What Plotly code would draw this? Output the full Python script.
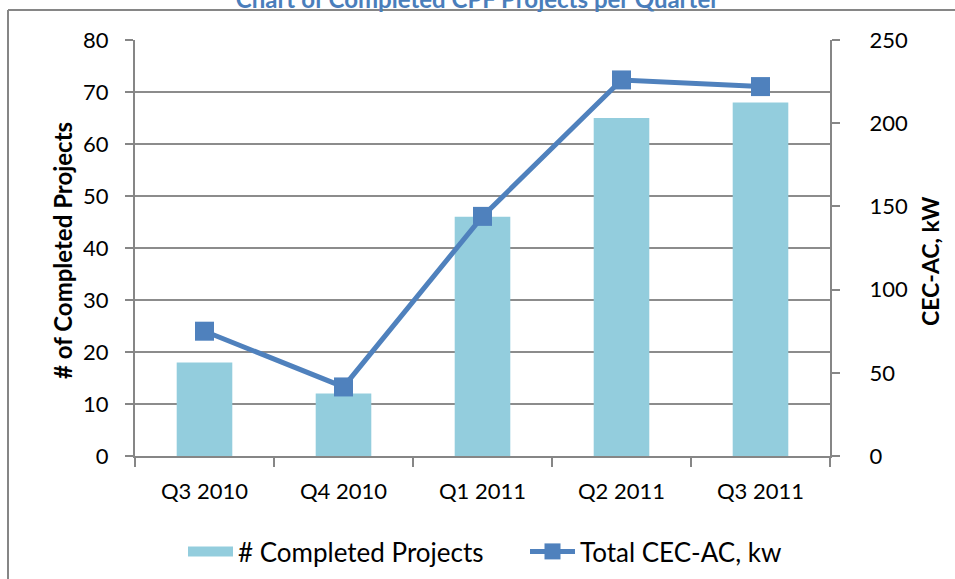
import plotly.graph_objects as go

quarters = ['Q3 2010', 'Q4 2010', 'Q1 2011', 'Q2 2011', 'Q3 2011']
completed_projects = [18, 12, 46, 65, 68]
total_cec_ac_kw = [75, 41.5, 144, 226, 222]

W, H = 955, 579
L, R, T, B = 135, 125, 40, 123  # plot area: x 135..830, y 40..456

FONT = 'Lato, Open Sans, sans-serif'
tick_font = dict(family=FONT, size=22, color='black')
grey = '#868686'
bar_color = '#93CDDD'
line_color = '#4F81BD'

px_w, px_h = W - L - R, H - T - B
def px_x(v):
    return (v - L) / px_w
def px_y(v):
    return (H - B - v) / px_h

fig = go.Figure()
fig.add_bar(x=quarters, y=completed_projects, name='# Completed Projects',
            marker=dict(color=bar_color, line=dict(width=0)), width=0.4,
            showlegend=False)
# legend stand-in so the swatch is a wide block like the Excel legend
fig.add_scatter(x=[None], y=[None], name='# Completed Projects', mode='lines',
                line=dict(color=bar_color, width=16))
fig.add_scatter(x=quarters, y=total_cec_ac_kw, name='Total CEC-AC, kw', yaxis='y2',
                mode='lines+markers',
                line=dict(color=line_color, width=5),
                marker=dict(symbol='square', size=19, color=line_color))

fig.update_layout(
    width=W, height=H,
    margin=dict(l=L, r=R, t=T, b=B),
    plot_bgcolor='white', paper_bgcolor='white',
    font=tick_font,
    title=dict(text='<b>Chart of Completed CPF Projects per Quarter</b>',
               x=0.5, xanchor='center', y=1.0, yref='container', yanchor='middle',
               font=dict(family=FONT, size=24, color='#4A7EBB')),
    xaxis=dict(showline=True, linecolor=grey, linewidth=2, ticks='outside',
               tickson='boundaries', ticklen=9, tickcolor=grey, tickwidth=2,
               tickfont=tick_font, showgrid=False, automargin=False,
               ticklabelstandoff=15),
    yaxis=dict(range=[0, 80], dtick=10, showline=True, linecolor=grey, linewidth=2,
               ticks='outside', ticklen=8, tickcolor=grey, tickwidth=2,
               gridcolor='#8c8c8c', gridwidth=2, zeroline=False, tickfont=tick_font,
               automargin=False, ticklabelstandoff=12),
    yaxis2=dict(range=[0, 250], dtick=50, overlaying='y', side='right', showline=True,
                linecolor=grey, linewidth=2, ticks='outside', ticklen=8,
                tickcolor=grey, tickwidth=2, showgrid=False, zeroline=False,
                tickfont=tick_font, automargin=False, ticklabelstandoff=25),
    legend=dict(orientation='h', xref='container', yref='container',
                x=183 / W, xanchor='left', y=(H - 528) / H, yanchor='top',
                entrywidth=282, bgcolor='rgba(0,0,0,0)',
                font=dict(family=FONT, size=26, color='black'), itemwidth=45),
    bargap=0.6,
)

# axis titles
fig.add_annotation(text='<b># of Completed Projects</b>', textangle=-90, showarrow=False,
                   xref='paper', yref='paper', x=px_x(62), y=px_y(251),
                   xanchor='center', yanchor='middle',
                   font=dict(family=FONT, size=24, color='black'))
fig.add_annotation(text='<b>CEC-AC, kW</b>', textangle=-90, showarrow=False,
                   xref='paper', yref='paper', x=px_x(930), y=px_y(262),
                   xanchor='center', yanchor='middle',
                   font=dict(family=FONT, size=23, color='black'))

# outer chart frame: only its left and top edges fall inside the page
frame = dict(type='line', xref='paper', yref='paper', layer='above',
             line=dict(color=grey, width=2))
fig.add_shape(x0=px_x(8), x1=px_x(8), y0=px_y(10), y1=px_y(H + 5), **frame)
fig.add_shape(x0=px_x(8), x1=px_x(W + 5), y0=px_y(10), y1=px_y(10), **frame)

fig.write_html('out.html', config={'displayModeBar': False},
               post_script="document.body.style.margin='0';document.body.style.overflow='hidden';")
